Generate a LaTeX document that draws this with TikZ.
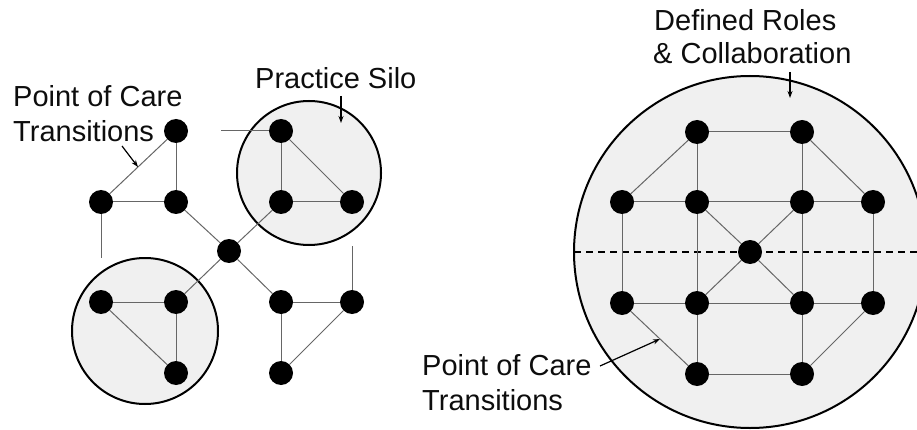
\documentclass[tikz,border=0pt]{standalone}
\usepackage{fontspec}
\setmainfont{Liberation Sans}
\usetikzlibrary{arrows.meta}
\begin{document}
\begin{tikzpicture}[x=1pt,y=-1pt,
  dot/.style={circle,fill=black,inner sep=0pt,minimum size=24pt},
  link/.style={draw=black!60,line width=1pt},
  silo/.style={draw=black,line width=2pt,fill=black!6},
  lbl/.style={anchor=base west,inner sep=0pt,text=black!95,font=\fontsize{29}{34}\selectfont},
  pointer/.style={draw=black,line width=1.2pt,-{Stealth[length=7pt,width=5pt]}},
  divider/.style={draw=black,line width=1.3pt,dash pattern=on 7pt off 5pt}]
\useasboundingbox (0,0) rectangle (917,430);
% silo circles
\draw[silo] (309,173) circle[radius=72pt];
\draw[silo] (145,331) circle[radius=73pt];
\begin{scope}
  \clip (0,0) rectangle (917,430);
  \draw[silo] (750,252) circle[radius=176pt];
\end{scope}
% dashed divider
\coordinate (dl) at (574,252);
\coordinate (dr) at (917,252);
\draw[divider] (dl) -- (dr);
% left nodes
\node[dot] (a1) at (176,131) {};
\node[dot] (b1) at (101,202) {};
\node[dot] (c1) at (176,202) {};
\node[dot] (d1) at (229,251) {};
\node[dot] (e1) at (281,131) {};
\node[dot] (f1) at (281,202) {};
\node[dot] (g1) at (352,202) {};
\node[dot] (h1) at (101,302) {};
\node[dot] (i1) at (176,302) {};
\node[dot] (j1) at (176,373) {};
\node[dot] (k1) at (281,302) {};
\node[dot] (l1) at (352,302) {};
\node[dot] (m1) at (281,373) {};
\coordinate (bend) at (101,258);
\coordinate (estart) at (221,131);
\coordinate (lend) at (352,246);
% left edges
\draw[link] (a1) -- (b1);
\draw[link] (a1) -- (c1);
\draw[link] (b1) -- (c1);
\draw[link] (b1) -- (bend);
\draw[link] (c1) -- (d1);
\draw[link] (d1) -- (f1);
\draw[link] (d1) -- (i1);
\draw[link] (d1) -- (k1);
\draw[link] (estart) -- (e1);
\draw[link] (e1) -- (f1);
\draw[link] (e1) -- (g1);
\draw[link] (f1) -- (g1);
\draw[link] (h1) -- (i1);
\draw[link] (h1) -- (j1);
\draw[link] (i1) -- (j1);
\draw[link] (k1) -- (l1);
\draw[link] (k1) -- (m1);
\draw[link] (l1) -- (m1);
\draw[link] (l1) -- (lend);
% right nodes
\node[dot] (r1) at (697,132) {};
\node[dot] (r2) at (802,132) {};
\node[dot] (s1) at (622,202) {};
\node[dot] (s2) at (697,202) {};
\node[dot] (s3) at (802,202) {};
\node[dot] (s4) at (873,202) {};
\node[dot] (ctr) at (750,252) {};
\node[dot] (u1) at (622,303) {};
\node[dot] (u2) at (697,303) {};
\node[dot] (u3) at (802,303) {};
\node[dot] (u4) at (873,303) {};
\node[dot] (v1) at (697,374) {};
\node[dot] (v2) at (802,374) {};
% right edges
\draw[link] (r1) -- (r2);
\draw[link] (r1) -- (s1);
\draw[link] (r2) -- (s4);
\draw[link] (r1) -- (s2);
\draw[link] (r2) -- (s3);
\draw[link] (s1) -- (s2);
\draw[link] (s2) -- (s3);
\draw[link] (s3) -- (s4);
\draw[link] (s1) -- (u1);
\draw[link] (s2) -- (u2);
\draw[link] (s3) -- (u3);
\draw[link] (s4) -- (u4);
\draw[link] (s2) -- (ctr);
\draw[link] (s3) -- (ctr);
\draw[link] (ctr) -- (u2);
\draw[link] (ctr) -- (u3);
\draw[link] (u1) -- (u2);
\draw[link] (u2) -- (u3);
\draw[link] (u3) -- (u4);
\draw[link] (u1) -- (v1);
\draw[link] (u4) -- (v2);
\draw[link] (u2) -- (v1);
\draw[link] (u3) -- (v2);
\draw[link] (v1) -- (v2);
% labels
\node[lbl] (pocA) at (13,107) {Point of Care};
\node[lbl] (pocB) at (13,142) {Transitions};
\node[lbl] (silo) at (255,89) {Practice Silo};
\node[lbl] (drA) at (654,31) {Defined Roles};
\node[lbl] (drB) at (653,64) {\& Collaboration};
\node[lbl] (rpA) at (422,375) {Point of Care};
\node[lbl] (rpB) at (422,410) {Transitions};
% arrows
\coordinate (t1) at (122,146); \coordinate (h1a) at (138,167);
\coordinate (t2) at (341,96);  \coordinate (h2a) at (341,123);
\coordinate (t3) at (790,72);  \coordinate (h3a) at (790,98);
\coordinate (t4) at (600,366); \coordinate (h4a) at (660,339);
\draw[pointer] (t1) -- (h1a);
\draw[pointer] (t2) -- (h2a);
\draw[pointer] (t3) -- (h3a);
\draw[pointer] (t4) -- (h4a);
\end{tikzpicture}
\end{document}
